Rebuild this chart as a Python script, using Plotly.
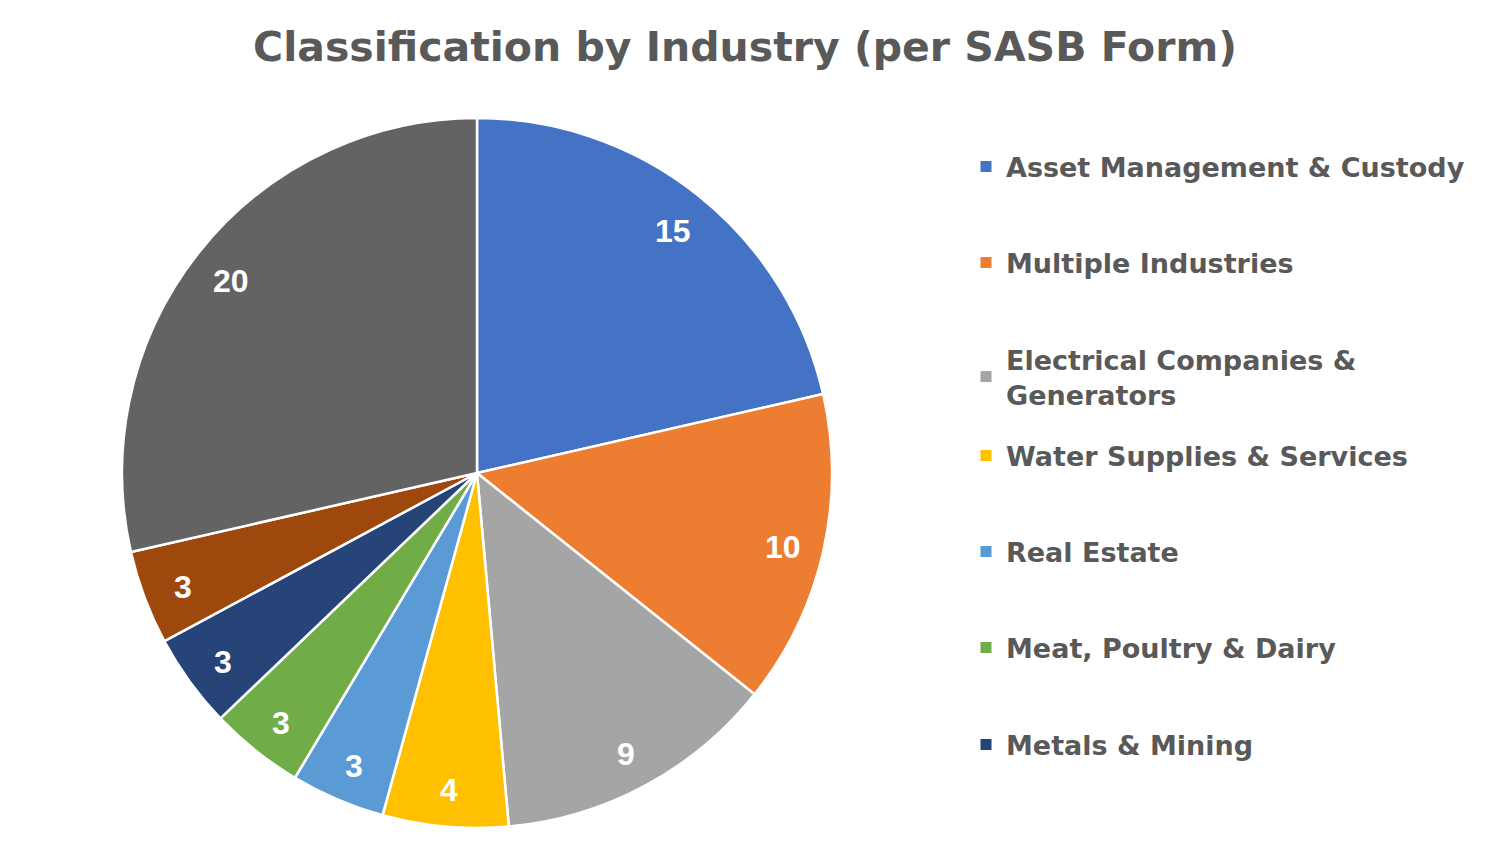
import math

import plotly.graph_objects as go

# slices, clockwise from 12 o'clock
industries = [
    "Asset Management & Custody",
    "Multiple Industries",
    "Electrical Companies & Generators",
    "Water Supplies & Services",
    "Real Estate",
    "Meat, Poultry & Dairy",
    "Metals & Mining",
    "Other (not in legend) A",
    "Other (not in legend) B",
]
counts = [15, 10, 9, 4, 3, 3, 3, 3, 20]
colors = [
    "#4472C4", "#ED7D31", "#A5A5A5", "#FFC000", "#5B9BD5",
    "#70AD47", "#264478", "#9E480E", "#636363",
]

# the original legend only lists the first seven entries
legend_names = [
    "Asset Management & Custody",
    "Multiple Industries",
    "Electrical Companies &<br>Generators",
    "Water Supplies & Services",
    "Real Estate",
    "Meat, Poultry & Dairy",
    "Metals & Mining",
]
legend_rows_px = [167, 263, 377, 456, 552, 648, 745]

W, H = 1500, 863
TEXT_GREY = "#595959"
FONT = "DejaVu Sans"

# pie placement in pixels
CX, CY, R = 477, 473, 355
LABEL_R = 0.885

fig = go.Figure()
fig.add_trace(
    go.Pie(
        labels=industries,
        values=counts,
        sort=False,
        direction="clockwise",
        rotation=0,
        marker=dict(colors=colors, line=dict(color="white", width=2.5)),
        textinfo="none",
        domain=dict(x=[(CX - R) / W, (CX + R) / W], y=[1 - (CY + R) / H, 1 - (CY - R) / H]),
        showlegend=False,
        hovertemplate="%{label}: %{value}<extra></extra>",
    )
)

# value labels near the outer edge of each slice, like Excel's "best fit"
total = sum(counts)
running = 0
for value in counts:
    mid = (running + value / 2) / total * 2 * math.pi
    running += value
    px = CX + LABEL_R * R * math.sin(mid)
    py = CY - LABEL_R * R * math.cos(mid)
    fig.add_annotation(
        x=px / W,
        y=1 - py / H,
        xref="paper",
        yref="paper",
        xanchor="center",
        yanchor="middle",
        yshift=-4,
        text=str(value),
        showarrow=False,
        font=dict(family="Liberation Sans", size=32, color="white", weight="bold"),
    )

legend_layout = {}
for i, (name, color, row) in enumerate(zip(legend_names, colors, legend_rows_px)):
    key = "legend" if i == 0 else f"legend{i + 1}"
    fig.add_trace(
        go.Scatter(
            x=[None],
            y=[None],
            mode="markers",
            marker=dict(symbol="square", size=11, color=color),
            name=name,
            legend=key,
            hoverinfo="skip",
        )
    )
    legend_layout[key] = dict(
        x=966 / W,
        xanchor="left",
        y=1 - row / H,
        yanchor="middle",
        bgcolor="rgba(0,0,0,0)",
        font=dict(family=FONT, size=27, color=TEXT_GREY, weight="bold"),
        itemwidth=30,
        tracegroupgap=0,
    )

fig.update_layout(
    width=W,
    height=H,
    paper_bgcolor="white",
    plot_bgcolor="white",
    margin=dict(l=0, r=0, t=0, b=0),
    title=dict(
        text="Classification by Industry (per SASB Form)",
        x=745 / W,
        xanchor="center",
        y=1 - 47 / H,
        yanchor="middle",
        font=dict(family=FONT, size=41, color=TEXT_GREY, weight="bold"),
    ),
    xaxis=dict(visible=False),
    yaxis=dict(visible=False),
    **legend_layout,
)

# drop the browser's default 8px body margin so the figure sits at (0, 0)
fig.write_html(
    "out.html",
    config={"displayModeBar": False},
    post_script="document.body.style.margin='0';",
)
